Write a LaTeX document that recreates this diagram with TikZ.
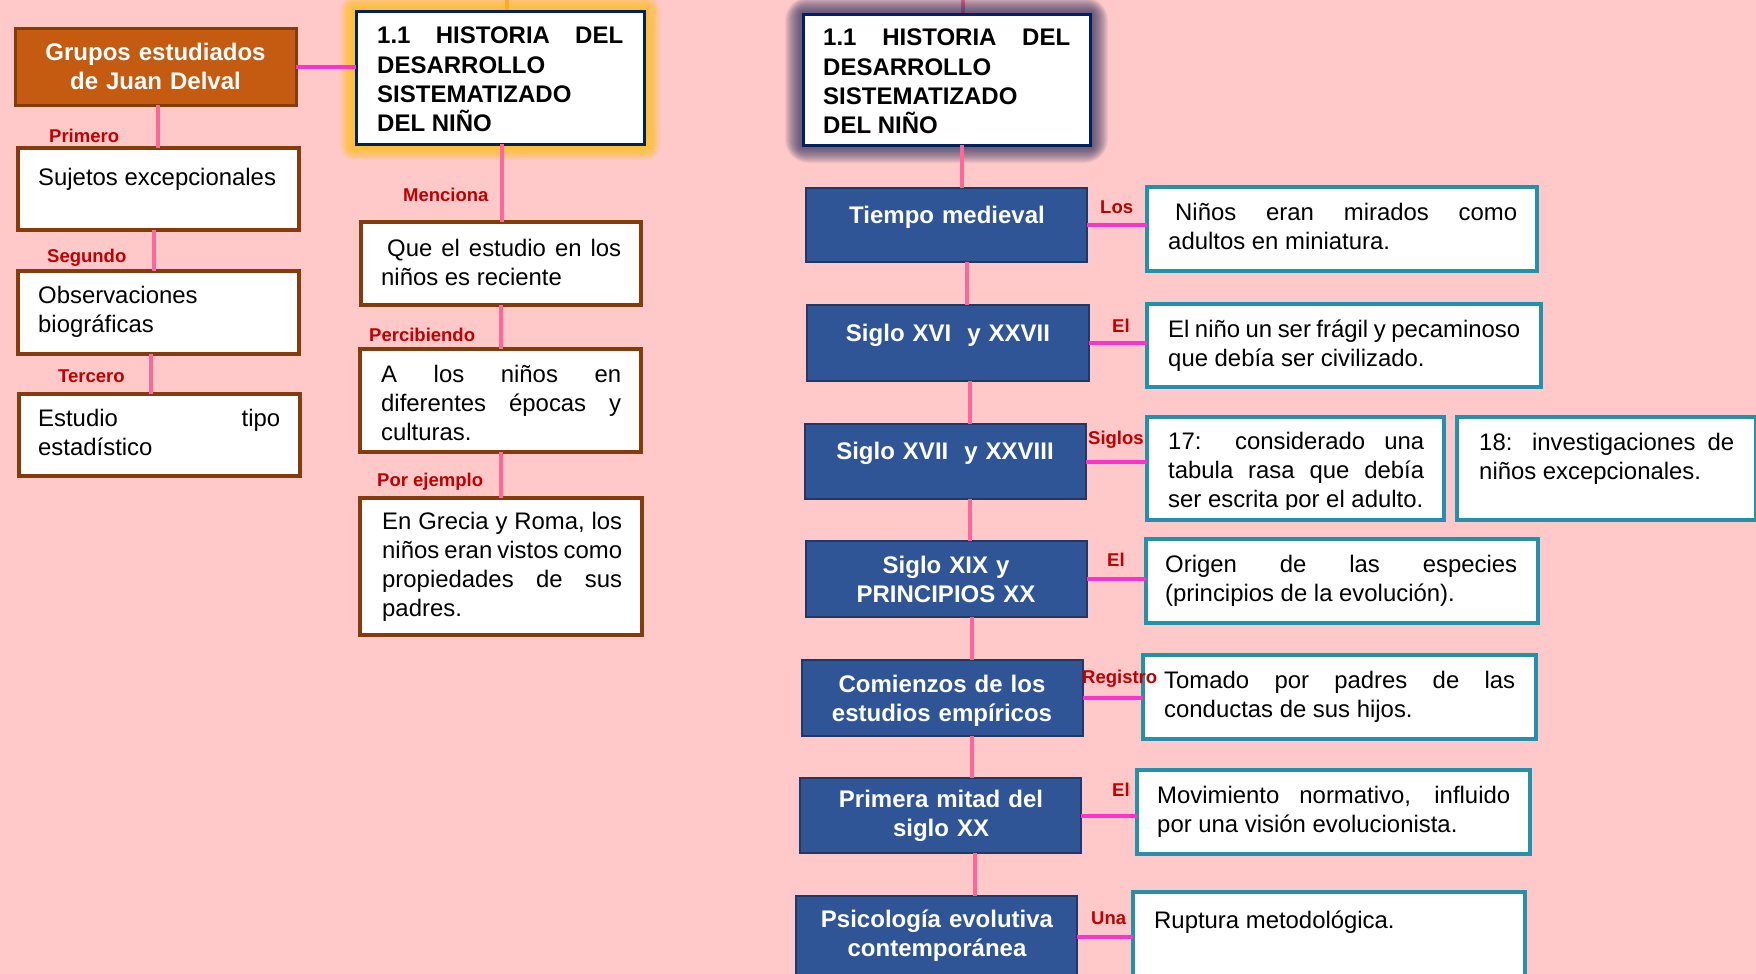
\documentclass[tikz,border=0pt]{standalone}
\usepackage{fontspec}
\setmainfont{Liberation Sans}
\hyphenpenalty=10000 \exhyphenpenalty=10000 \tolerance=10000 \hbadness=10000 \hfuzz=20pt
\definecolor{bgpink}{HTML}{FFC9C9}
\definecolor{orangeF}{HTML}{C55A11}
\definecolor{brownB}{HTML}{843C0C}
\definecolor{navyB}{HTML}{002060}
\definecolor{blueF}{HTML}{2F5597}
\definecolor{blueB}{HTML}{203864}
\definecolor{tealB}{HTML}{2391AB}
\definecolor{vpink}{HTML}{FF6699}
\definecolor{hpink}{HTML}{FF33CC}
\definecolor{lblred}{HTML}{C00000}
\definecolor{glowY}{HTML}{FFC000}
\definecolor{glowD}{HTML}{2A2F5C}
\definecolor{toporange}{HTML}{F79868}
\begin{document}
\begin{tikzpicture}[x=1pt,y=-1pt,
  box/.style={rectangle, inner sep=0pt, outer sep=0pt},
  orangebox/.style={box, fill=orangeF, draw=brownB, line width=3pt},
  brownbox/.style={box, fill=white, draw=brownB, line width=4pt},
  titlebox/.style={box, fill=white, draw=navyB, line width=3pt},
  bluebox/.style={box, fill=blueF, draw=blueB, line width=2.5pt},
  tealbox/.style={box, fill=white, draw=tealB, line width=4.5pt},
  vconn/.style={draw=vpink, line width=4pt},
  hconn/.style={draw=hpink, line width=4pt},
  body/.style={inner sep=0pt, anchor=base west, align=justify, font=\fontsize{23.9}{29.3}\selectfont},
  head/.style={inner sep=0pt, anchor=base west, align=justify, font=\bfseries\fontsize{24}{29.3}\selectfont},
  wtext/.style={inner sep=0pt, anchor=base, align=center, text width=300pt, text=white, font=\bfseries\fontsize{24}{29.5}\selectfont},
  lbl/.style={inner sep=0pt, anchor=base west, text=lblred, font=\bfseries\fontsize{18.5}{20}\selectfont}]
\newcommand\bx[6]{\node[#2, minimum width={#5-#3-4}, minimum height={#6-#4-4}] (#1) at ({(#3+#5)/2},{(#4+#6)/2}) {};}
\useasboundingbox (0,0) rectangle (1756,974);
\clip (0,0) rectangle (1756,974);
\fill[bgpink] (0,0) rectangle (1756,974);
% top lines (under glows)
\coordinate (top1) at (507,0);
\coordinate (top2) at (963,0);
\draw[draw=toporange, line width=4pt] (top1) -- (507,12);
\draw[vconn] (top2) -- (963,15);
% glows
\foreach \i in {1,...,14}{
  \fill[glowY, opacity=0.085, rounded corners=\i pt] (354-\i,10-\i) rectangle (646+\i,146+\i);
}
\foreach \i in {1,...,16}{
  \fill[glowD, opacity=0.065, rounded corners=1.5*\i pt] (801-\i,13-\i) rectangle (1092+\i,147+\i);
}
% boxes left
\bx{grupos}{orangebox}{13}{27}{298}{107}
\bx{hist1}{titlebox}{354}{10}{646}{146}
\bx{suj}{brownbox}{16}{146}{301}{232}
\bx{obs}{brownbox}{16}{269}{301}{356}
\bx{est}{brownbox}{17}{392}{302}{478}
\bx{que}{brownbox}{359}{220}{643}{307}
\bx{per}{brownbox}{358}{347}{643}{454}
\bx{ej}{brownbox}{358}{496}{644}{637}
% boxes right
\bx{hist2}{titlebox}{801}{13}{1092}{147}
\bx{t1}{bluebox}{804}{186}{1089}{264}
\bx{t2}{bluebox}{805}{303}{1091}{383}
\bx{t3}{bluebox}{803}{422}{1088}{501}
\bx{t4}{bluebox}{804}{539}{1089}{619}
\bx{t5}{bluebox}{800}{658}{1085}{738}
\bx{t6}{bluebox}{798}{776}{1083}{855}
\bx{t7}{bluebox}{794}{894}{1079}{980}
\bx{d1}{tealbox}{1145}{185}{1539}{273}
\bx{d2}{tealbox}{1145}{302}{1543}{389}
\bx{d3a}{tealbox}{1145}{415}{1446}{522}
\bx{d3b}{tealbox}{1455}{415}{1758}{522}
\bx{d4}{tealbox}{1144}{537}{1540}{625}
\bx{d5}{tealbox}{1141}{653}{1538}{741}
\bx{d6}{tealbox}{1135}{768}{1532}{856}
\bx{d7}{tealbox}{1131}{890}{1527}{990}
% connectors left
\draw[hconn] (grupos.east) -- (grupos.east -| hist1.west);
\draw[vconn] ([xshift=2pt]hist1.south) -- ([xshift=2pt]hist1.south |- que.north);
\draw[vconn] (que.south) -- (que.south |- per.north);
\draw[vconn] (per.south) -- (per.south |- ej.north);
\draw[vconn] ([xshift=2.5pt]grupos.south) -- ([xshift=2.5pt]grupos.south |- suj.north);
\draw[vconn] ([xshift=-5pt]suj.south) -- ([xshift=-5pt]suj.south |- obs.north);
\draw[vconn] ([xshift=-7.5pt]obs.south) -- ([xshift=-7.5pt]obs.south |- est.north);
% connectors right
\draw[vconn] ([xshift=15.5pt]hist2.south) -- ([xshift=15.5pt]hist2.south |- t1.north);
\draw[vconn] ([xshift=20.5pt]t1.south) -- ([xshift=20.5pt]t1.south |- t2.north);
\draw[vconn] ([xshift=22pt]t2.south) -- ([xshift=22pt]t2.south |- t3.north);
\draw[vconn] ([xshift=24.5pt]t3.south) -- ([xshift=24.5pt]t3.south |- t4.north);
\draw[vconn] ([xshift=25.5pt]t4.south) -- ([xshift=25.5pt]t4.south |- t5.north);
\draw[vconn] ([xshift=29.5pt]t5.south) -- ([xshift=29.5pt]t5.south |- t6.north);
\draw[vconn] ([xshift=34.5pt]t6.south) -- ([xshift=34.5pt]t6.south |- t7.north);
\draw[hconn] (t1.east) -- (t1.east -| d1.west);
\draw[hconn] (t2.east) -- (t2.east -| d2.west);
\draw[hconn] (t3.east) -- (t3.east -| d3a.west);
\draw[hconn] (t4.east) -- (t4.east -| d4.west);
\draw[hconn] (t5.east) -- (t5.east -| d5.west);
\draw[hconn] (t6.east) -- (t6.east -| d6.west);
\draw[hconn] (t7.east) -- (t7.east -| d7.west);
% texts left
\node[wtext] (gruposT) at (155.5,60) {Grupos estudiados\\de Juan Delval};
\node[head, text width=246pt] (hist1T) at (377,44) {1.1 HISTORIA DEL\linebreak DESARROLLO\\SISTEMATIZADO\\DEL NIÑO};
\node[body, text width=250pt] (sujT) at (38,185) {Sujetos excepcionales};
\node[body, text width=250pt] (obsT) at (38,303) {Observaciones\\biográficas};
\node[body, text width=242pt] (estT) at (38,426) {Estudio tipo\linebreak estadístico};
\node[body, text width=240pt] (queT) at (381,256) {\hspace*{6pt}Que el estudio en los\linebreak niños es reciente};
\node[body, text width=240pt] (perT) at (381,382) {A los niños en\linebreak diferentes épocas y\linebreak culturas.};
\node[body, text width=240pt] (ejT) at (382,529) {En Grecia y Roma, los\linebreak niños eran vistos como\linebreak propiedades de sus\linebreak padres.};
% labels left
\node[lbl] (l1) at (49,142) {Primero};
\node[lbl] (l2) at (47,262) {Segundo};
\node[lbl] (l3) at (58,382) {Tercero};
\node[lbl] (l4) at (403,201) {Menciona};
\node[lbl] (l5) at (369,341) {Percibiendo};
\node[lbl] (l6) at (377,486) {Por ejemplo};
% texts right
\node[head, text width=247pt] (hist2T) at (823,46) {1.1 HISTORIA DEL\linebreak DESARROLLO\\SISTEMATIZADO\\DEL NIÑO};
\node[wtext] (t1T) at (947,223) {Tiempo medieval};
\node[wtext] (t2T) at (948,341) {Siglo XVI~ y XXVII};
\node[wtext] (t3T) at (945,459) {Siglo XVII~ y XXVIII};
\node[wtext] (t4T) at (946,573) {Siglo XIX y\\PRINCIPIOS XX};
\node[wtext] (t5T) at (942,692) {Comienzos de los\\estudios empíricos};
\node[wtext] (t6T) at (941,807) {Primera mitad del\\siglo XX};
\node[wtext] (t7T) at (937,927) {Psicología evolutiva\\contemporánea};
\node[body, text width=349pt] (d1T) at (1168,220) {\hspace*{7pt}Niños eran mirados como\linebreak adultos en miniatura.};
\node[body, text width=352pt] (d2T) at (1168,337) {El niño un ser frágil y pecaminoso\linebreak que debía ser civilizado.};
\begin{scope}
\clip (1145,415) rectangle (1446,509);
\node[body, text width=256pt] (d3aT) at (1168,449) {17: considerado una\linebreak tabula rasa que debía\linebreak ser escrita por el adulto.};
\end{scope}
\node[body, text width=255pt] (d3bT) at (1479,450) {18: investigaciones de\linebreak niños excepcionales.};
\node[body, text width=352pt] (d4T) at (1165,572) {Origen de las especies\linebreak (principios de la evolución).};
\node[body, text width=351pt] (d5T) at (1164,688) {Tomado por padres de las\linebreak conductas de sus hijos.};
\node[body, text width=353pt] (d6T) at (1157,803) {Movimiento normativo, influido\linebreak por una visión evolucionista.};
\node[body, text width=353pt] (d7T) at (1154,928) {Ruptura metodológica.};
% labels right
\node[lbl] (r1) at (1100,213) {Los};
\node[lbl] (r2) at (1112,332) {El};
\node[lbl] (r3) at (1088,444) {Siglos};
\node[lbl] (r4) at (1107,566) {El};
\node[lbl] (r5) at (1082,683) {Registro};
\node[lbl] (r6) at (1112,796) {El};
\node[lbl] (r7) at (1091,924) {Una};
\end{tikzpicture}
\end{document}
